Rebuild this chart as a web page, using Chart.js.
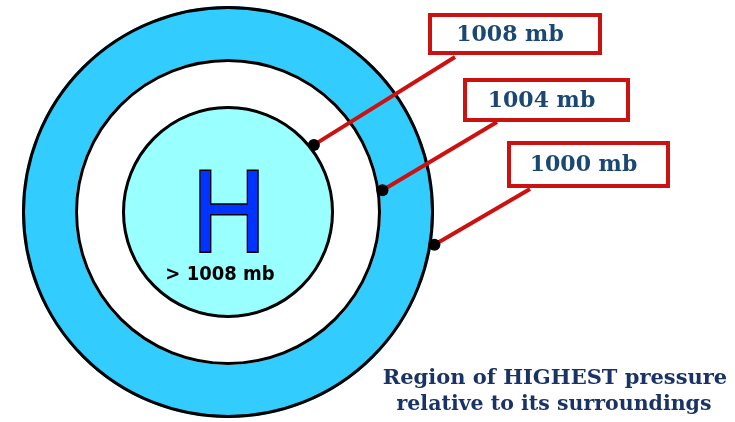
<!DOCTYPE html>
<html>
<head>
<meta charset="utf-8">
<script src="https://cdn.jsdelivr.net/npm/chart.js@4.4.0/dist/chart.umd.min.js"></script>
<style>
  html, body { margin: 0; padding: 0; background: #fff; }
  #wrap { width: 735px; height: 422px; }
</style>
</head>
<body>
<div id="wrap"><canvas id="myChart" width="735" height="422"></canvas></div>
<script>
// isobars from outside in (mb)
const isobars = [1000, 1004, 1008];
const isobarLabels = ['1000 mb', '1004 mb', '1008 mb'];
const centreLabel = '> 1008 mb';
const ringColors = ['#33ccff', '#ffffff', '#99ffff'];

// where each isobar gets its callout (deg on the ring, box and line end)
const callouts = [
  { angle: 9,   box: [507, 141, 163, 47], end: [530, 189] },
  { angle: -8,  box: [463, 78, 167, 44],  end: [497, 122] },
  { angle: -38, box: [428, 13, 174, 42],  end: [455, 57] }
];
// relative ring thickness, outer -> inner
const ringWeights = [53, 47, 106];

const red = '#cc1111';
const navy = '#1b4873';

const calloutPlugin = {
  id: 'callouts',
  afterDatasetsDraw(chart) {
    const ctx = chart.ctx;
    ctx.save();

    // black outline of each isobar
    isobars.forEach((p, i) => {
      const arc = chart.getDatasetMeta(i).data[0];
      ctx.strokeStyle = '#000';
      ctx.lineWidth = 3;
      ctx.beginPath();
      ctx.arc(arc.x, arc.y, arc.outerRadius - 1.5, 0, Math.PI * 2);
      ctx.stroke();
    });

    isobars.forEach((p, i) => {
      const arc = chart.getDatasetMeta(i).data[0];
      const c = callouts[i];
      const a = c.angle * Math.PI / 180;
      const r = arc.outerRadius + 3;
      const px = arc.x + r * Math.cos(a);
      const py = arc.y + r * Math.sin(a);

      // leader line
      ctx.strokeStyle = red;
      ctx.lineWidth = 4;
      ctx.beginPath();
      ctx.moveTo(px, py);
      ctx.lineTo(c.end[0], c.end[1]);
      ctx.stroke();

      // dot on the isobar
      ctx.fillStyle = '#000';
      ctx.beginPath();
      ctx.arc(px, py, 6, 0, Math.PI * 2);
      ctx.fill();

      // label box
      const [bx, by, bw, bh] = c.box;
      ctx.fillStyle = '#fff';
      ctx.fillRect(bx, by, bw, bh);
      ctx.strokeStyle = red;
      ctx.lineWidth = 4;
      ctx.strokeRect(bx + 2, by + 2, bw - 4, bh - 4);

      ctx.fillStyle = navy;
      ctx.font = 'bold 22px "DejaVu Serif"';
      ctx.textAlign = 'center';
      ctx.textBaseline = 'middle';
      ctx.fillText(isobarLabels[i], bx + bw / 2 - 5, by + bh / 2 + 1);
    });

    // the H in the middle
    const inner = chart.getDatasetMeta(2).data[0];
    ctx.save();
    ctx.translate(inner.x + 1, 251);
    ctx.scale(0.87, 1);
    ctx.font = '117px "Liberation Sans"';
    ctx.textAlign = 'center';
    ctx.textBaseline = 'alphabetic';
    ctx.lineWidth = 3;
    ctx.strokeStyle = '#000';
    ctx.strokeText('H', 0, 0);
    ctx.fillStyle = '#0033ff';
    ctx.fillText('H', 0, 0);
    ctx.restore();

    ctx.fillStyle = '#000';
    ctx.font = 'bold 20px "DejaVu Sans Condensed", "DejaVu Sans"';
    ctx.textAlign = 'center';
    ctx.textBaseline = 'alphabetic';
    ctx.fillText(centreLabel, inner.x - 8, 280, 115);

    // caption
    ctx.fillStyle = '#1a3366';
    ctx.font = 'bold 21px "DejaVu Serif"';
    ctx.fillText('Region of HIGHEST pressure', 555, 384, 346);
    ctx.fillText('relative to its surroundings', 554, 410, 315);

    ctx.restore();
  }
};

const ctx = document.getElementById('myChart').getContext('2d');
new Chart(ctx, {
  type: 'doughnut',
  data: {
    labels: ['isobar'],
    datasets: isobars.map((p, i) => ({
      label: isobarLabels[i],
      data: [p],
      backgroundColor: ringColors[i],
      borderWidth: 0,
      weight: ringWeights[i]
    }))
  },
  options: {
    responsive: false,
    animation: false,
    cutout: 0,
    layout: { padding: { left: 22, top: 6, right: 301, bottom: 4 } },
    events: [],
    plugins: {
      legend: { display: false },
      tooltip: { enabled: false },
      title: { display: false }
    }
  },
  plugins: [calloutPlugin]
});
</script>
</body>
</html>
